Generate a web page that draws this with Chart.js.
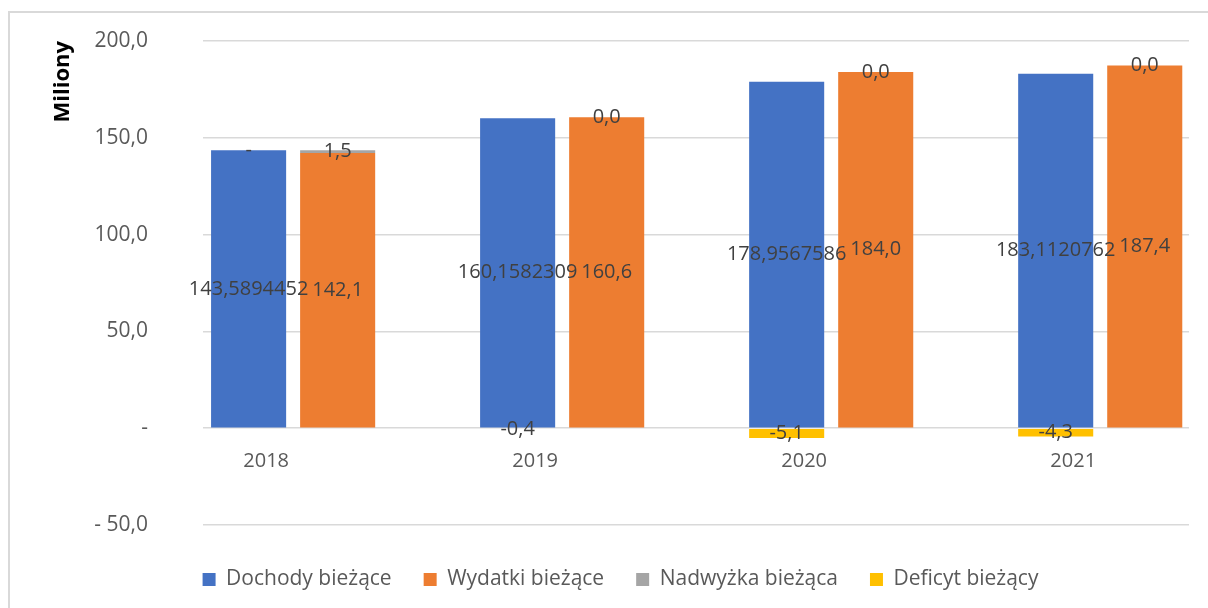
<!DOCTYPE html>
<html>
<head>
<meta charset="utf-8">
<script src="https://cdn.jsdelivr.net/npm/chart.js@4"></script>
<style>
  html, body { margin: 0; padding: 0; background: #fff; overflow: hidden; }
  #frame { position: absolute; left: 8px; top: 11px; width: 1300px; height: 700px; border: 2px solid #d9d9d9; }
  #chart { position: absolute; left: 0; top: 0; }
</style>
</head>
<body>
<div id="frame"></div>
<canvas id="chart" width="1208" height="608"></canvas>
<script>
const years = ['2018', '2019', '2020', '2021'];
const dochody = [143.5894452, 160.1582309, 178.9567586, 183.1120762];
const wydatki = [142.1, 160.6, 184.0, 187.4];
const nadwyzka = [1.5, 0.0, 0.0, 0.0];
const deficyt = [0, -0.4, -5.1, -4.3];

Chart.defaults.font.family = "'Open Sans', sans-serif";

function comma(s) {
    return s.replace('.', ',');
}
function toPoints(values) {
    return values.map((v, i) => ({x: i, y: v}));
}

// how each series writes its value label
const labelFormats = [
    v => comma(String(v)),
    v => comma(v.toFixed(1)),
    v => comma(v.toFixed(1)),
    v => v === 0 ? '-' : comma(v.toFixed(1))
];

const barLabels = {
    id: 'barLabels',
    afterDatasetsDraw(chart) {
        const ctx = chart.ctx;
        ctx.save();
        ctx.font = "20px 'Open Sans', sans-serif";
        ctx.fillStyle = '#404040';
        ctx.textAlign = 'center';
        ctx.textBaseline = 'middle';
        chart.data.datasets.forEach((ds, di) => {
            const meta = chart.getDatasetMeta(di);
            meta.data.forEach((bar, i) => {
                const v = ds.data[i].y;
                ctx.fillText(labelFormats[di](v), bar.x, (bar.y + bar.base) / 2);
            });
        });
        ctx.restore();
    }
};

// move the legend a bit down and right, like the original
const legendShift = {
    id: 'legendShift',
    afterLayout(chart) {
        const lg = chart.legend;
        if (lg) {
            lg.top += 12;
            lg.bottom += 12;
            lg.left += 26;
            lg.right += 26;
        }
    }
};

new Chart(document.getElementById('chart'), {
    type: 'bar',
    data: {
        datasets: [{
            label: 'Dochody bieżące',
            data: toPoints(dochody),
            backgroundColor: '#4472C4',
            stack: 'a'
        }, {
            label: 'Wydatki bieżące',
            data: toPoints(wydatki),
            backgroundColor: '#ED7D31',
            stack: 'b'
        }, {
            label: 'Nadwyżka bieżąca',
            data: toPoints(nadwyzka),
            backgroundColor: '#A5A5A5',
            stack: 'b'
        }, {
            label: 'Deficyt bieżący',
            data: toPoints(deficyt),
            backgroundColor: '#FFC000',
            stack: 'a'
        }]
    },
    options: {
        responsive: false,
        animation: false,
        devicePixelRatio: 1,
        categoryPercentage: 0.662,
        barPercentage: 0.843,
        borderWidth: 0,
        layout: { padding: { top: 41, right: 19, bottom: 20, left: 0 } },
        plugins: {
            tooltip: { enabled: false },
            legend: {
                position: 'bottom',
                labels: {
                    boxWidth: 13,
                    boxHeight: 13,
                    padding: 32,
                    color: '#595959',
                    font: { size: 21 }
                }
            }
        },
        scales: {
            x: {
                type: 'linear',
                position: { y: 0 },
                min: -0.335,
                max: 3.33,
                offset: false,
                grid: { display: false },
                border: { display: false },
                afterBuildTicks: s => { s.ticks = years.map((_, i) => ({value: i})); },
                ticks: {
                    autoSkip: false,
                    maxRotation: 0,
                    padding: 13,
                    labelOffset: -27,
                    color: '#595959',
                    font: { size: 20 },
                    callback: v => years[v] !== undefined ? years[v] : ''
                }
            },
            y: {
                stacked: true,
                min: -50,
                max: 200,
                afterFit: s => { s.width = 203; },
                grid: { color: '#d9d9d9', lineWidth: 1.5, drawTicks: true, tickLength: 50, tickColor: 'rgba(0,0,0,0)' },
                border: { display: false },
                title: {
                    display: true,
                    text: 'Miliony',
                    align: 'end',
                    color: '#000',
                    font: { size: 22, weight: 'bold' },
                    padding: { top: 50, bottom: 0 }
                },
                ticks: {
                    stepSize: 50,
                    padding: 5,
                    color: '#595959',
                    font: { size: 21 },
                    callback: v => v === 0 ? '-' : (v < 0 ? '- ' + comma((-v).toFixed(1)) : comma(v.toFixed(1)))
                }
            }
        }
    },
    plugins: [barLabels, legendShift]
});
</script>
</body>
</html>
